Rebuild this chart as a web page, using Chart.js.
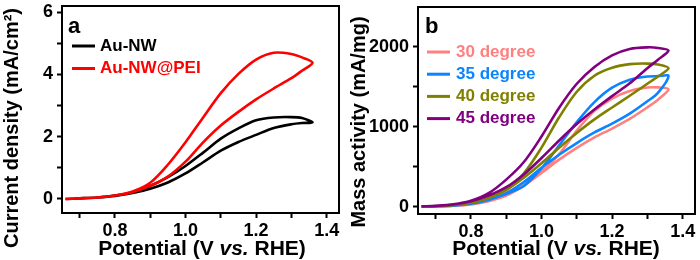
<!DOCTYPE html>
<html>
<head>
<meta charset="utf-8">
<script src="https://cdn.jsdelivr.net/npm/chart.js@4.4.1/dist/chart.umd.min.js"></script>
<style>
  body { margin: 0; background: #fff; }
  .panel { position: absolute; top: 0; width: 350px; height: 260px; }
</style>
</head>
<body>
<div class="panel" style="left:0"><canvas id="chartA" width="350" height="260"></canvas></div>
<div class="panel" style="left:350px"><canvas id="chartB" width="350" height="260"></canvas></div>
<script>
// potentials (V vs. RHE) for the anodic and cathodic sweeps
const potentialForward = [0.66, 0.70, 0.75, 0.80, 0.85, 0.90, 0.95, 1.00, 1.05, 1.10, 1.15, 1.20, 1.25, 1.30, 1.33, 1.36];
const potentialReverse = [1.33, 1.30, 1.25, 1.20, 1.15, 1.10, 1.05, 1.00, 0.95, 0.90, 0.85, 0.80, 0.75, 0.70, 0.66];

// panel a: current density (mA/cm2)
const auNwForward = [0, 0.02, 0.05, 0.11, 0.22, 0.42, 0.70, 1.06, 1.49, 1.94, 2.27, 2.53, 2.62, 2.63, 2.60, 2.46];
const auNwReverse = [2.44, 2.40, 2.28, 2.06, 1.83, 1.55, 1.18, 0.82, 0.53, 0.33, 0.19, 0.10, 0.05, 0.02, 0];
const auNwPeiForward = [0, 0.02, 0.05, 0.11, 0.24, 0.52, 1.10, 1.82, 2.62, 3.40, 4.02, 4.48, 4.70, 4.66, 4.55, 4.38];
const auNwPeiReverse = [4.12, 3.88, 3.55, 3.20, 2.80, 2.36, 1.82, 1.20, 0.72, 0.42, 0.22, 0.11, 0.05, 0.02, 0];

// panel b: mass activity (mA/mg)
const deg30Forward = [3, 6, 15, 35, 80, 170, 290, 440, 660, 955, 1200, 1355, 1450, 1492, 1494, 1470];
const deg30Reverse = [1340, 1245, 1100, 979, 868, 737, 590, 425, 265, 140, 70, 30, 13, 5, 3];
const deg35Forward = [3, 7, 18, 40, 90, 160, 260, 480, 770, 1060, 1310, 1490, 1590, 1630, 1635, 1637];
const deg35Reverse = [1425, 1320, 1165, 1040, 930, 798, 652, 488, 310, 170, 85, 38, 15, 6, 3];
const deg40Forward = [4, 9, 22, 50, 110, 230, 420, 740, 1120, 1440, 1640, 1740, 1785, 1792, 1780, 1734];
const deg40Reverse = [1630, 1540, 1390, 1243, 1094, 924, 740, 545, 365, 210, 110, 50, 20, 8, 4];
const deg45Forward = [5, 12, 30, 75, 170, 340, 560, 880, 1240, 1540, 1750, 1895, 1975, 1995, 1988, 1955];
const deg45Reverse = [1840, 1735, 1545, 1385, 1218, 1036, 830, 610, 405, 245, 140, 70, 30, 12, 5];

// axis ticks (all tick marks) and the ones that carry a label
const potentialTicks = [0.7, 0.8, 0.9, 1.0, 1.1, 1.2, 1.3, 1.4];
const potentialLabels = ['0.8', '1.0', '1.2', '1.4'];
const densityTicks = [0, 1, 2, 3, 4, 5, 6];
const densityLabels = ['0', '2', '4', '6'];
const massTicks = [0, 500, 1000, 1500, 2000];
const massLabels = ['0', '1000', '2000'];

const FONT = '"Liberation Sans", Arial, sans-serif';

function loop(fwd, rev) {
  const up = potentialForward.map((x, i) => ({ x: x, y: fwd[i] }));
  const down = potentialReverse.map((x, i) => ({ x: x, y: rev[i] }));
  return up.concat(down);
}

function series(label, color, fwd, rev, order) {
  return {
    label: label,
    data: loop(fwd, rev),
    borderColor: color,
    backgroundColor: color,
    borderWidth: 2.6,
    pointRadius: 0,
    showLine: true,
    tension: 0.3,
    order: order,
  };
}

// box, panel letter, legend and axis titles
const panelDecor = {
  id: 'panelDecor',
  afterDraw(chart, args, opts) {
    const ctx = chart.ctx;
    const a = chart.chartArea;
    ctx.save();
    ctx.strokeStyle = '#000';
    ctx.lineWidth = 2;
    ctx.strokeRect(a.left, a.top, a.right - a.left, a.bottom - a.top);

    ctx.fillStyle = '#000';
    ctx.textAlign = 'left';
    ctx.textBaseline = 'alphabetic';
    ctx.font = 'bold 22px ' + FONT;
    ctx.fillText(opts.letter, opts.letterX, opts.letterY);

    ctx.font = 'bold 17px ' + FONT;
    ctx.textBaseline = 'middle';
    chart.data.datasets.forEach((ds, i) => {
      const y = opts.legendY + i * opts.legendGap;
      ctx.strokeStyle = ds.borderColor;
      ctx.lineWidth = 3;
      ctx.beginPath();
      ctx.moveTo(opts.legendX, y);
      ctx.lineTo(opts.legendX + 23, y);
      ctx.stroke();
      ctx.fillStyle = ds.borderColor;
      ctx.fillText(ds.label, opts.legendX + opts.legendTextGap, y);
    });

    // x title, "vs." in italics
    const parts = [['Potential (V ', 'bold'], ['vs.', 'italic bold'], [' RHE)', 'bold']];
    let total = 0;
    parts.forEach(p => { ctx.font = p[1] + ' 21px ' + FONT; total += ctx.measureText(p[0]).width; });
    let x = opts.xTitleX - total / 2;
    ctx.fillStyle = '#000';
    ctx.textBaseline = 'alphabetic';
    parts.forEach(p => {
      ctx.font = p[1] + ' 21px ' + FONT;
      ctx.fillText(p[0], x, opts.xTitleY);
      x += ctx.measureText(p[0]).width;
    });

    ctx.translate(opts.yTitleX, opts.yTitleY);
    ctx.rotate(-Math.PI / 2);
    ctx.font = 'bold 20px ' + FONT;
    ctx.textAlign = 'center';
    ctx.textBaseline = 'middle';
    ctx.fillText(opts.yTitle, 0, 0);
    ctx.restore();
  }
};

function fmt(v) {
  return Math.abs(v) < 10 ? String(Math.round(v * 10) / 10).replace(/^(\d)$/, '$1') : String(Math.round(v));
}

function makeOptions(cfg) {
  const tickFont = { family: FONT, size: 18, weight: 'bold' };
  const tickGrid = { drawOnChartArea: false, drawTicks: true, tickLength: 5, tickColor: '#000', tickWidth: 2 };
  return {
    responsive: false,
    animation: false,
    devicePixelRatio: 1,
    layout: { padding: cfg.padding },
    plugins: {
      legend: { display: false },
      tooltip: { enabled: false },
      panelDecor: cfg.decor,
    },
    scales: {
      x: {
        type: 'linear',
        min: 0.65,
        max: 1.435,
        grid: tickGrid,
        border: { display: false },
        afterBuildTicks: s => { s.ticks = potentialTicks.map(v => ({ value: v })); },
        ticks: {
          autoSkip: false,
          maxRotation: 0,
          color: '#000',
          font: tickFont,
          padding: 2,
          callback: v => (potentialLabels.includes(v.toFixed(1)) ? v.toFixed(1) : ''),
        },
        afterFit: s => { s.height = cfg.xHeight; s.paddingLeft = 0; s.paddingRight = 0; },
      },
      y: {
        min: cfg.yMin,
        max: cfg.yMax,
        grid: tickGrid,
        border: { display: false },
        afterBuildTicks: s => { s.ticks = cfg.yTicks.map(v => ({ value: v })); },
        ticks: {
          autoSkip: false,
          color: '#000',
          font: tickFont,
          padding: 4,
          callback: v => (cfg.yLabels.includes(String(v)) ? String(v) : ''),
        },
        afterFit: s => { s.width = cfg.yWidth; s.paddingTop = 0; s.paddingBottom = 0; },
      },
    },
  };
}

new Chart(document.getElementById('chartA'), {
  type: 'scatter',
  data: {
    datasets: [
      series('Au-NW', '#000000', auNwForward, auNwReverse, 1),
      series('Au-NW@PEI', '#ff0000', auNwPeiForward, auNwPeiReverse, 0),
    ],
  },
  options: makeOptions({
    padding: { left: 0, right: 11, top: 6, bottom: 0 },
    yWidth: 62, xHeight: 47,
    yMin: -0.45, yMax: 6.2, yTicks: densityTicks, yLabels: densityLabels,
    decor: {
      letter: 'a', letterX: 68, letterY: 33,
      legendX: 72, legendY: 46, legendGap: 22.5, legendTextGap: 28,
      xTitleX: 202, xTitleY: 255,
      yTitle: 'Current density (mA/cm\u00b2)', yTitleX: 12, yTitleY: 128,
    },
  }),
  plugins: [panelDecor],
});

new Chart(document.getElementById('chartB'), {
  type: 'scatter',
  data: {
    datasets: [
      series('30 degree', '#ff8080', deg30Forward, deg30Reverse, 3),
      series('35 degree', '#0a84ff', deg35Forward, deg35Reverse, 2),
      series('40 degree', '#808000', deg40Forward, deg40Reverse, 1),
      series('45 degree', '#800080', deg45Forward, deg45Reverse, 0),
    ],
  },
  options: makeOptions({
    padding: { left: 0, right: 5, top: 7, bottom: 0 },
    yWidth: 68, xHeight: 46,
    yMin: -90, yMax: 2500, yTicks: massTicks, yLabels: massLabels,
    decor: {
      letter: 'b', letterX: 75, letterY: 33,
      legendX: 77, legendY: 52, legendGap: 22.2, legendTextGap: 29,
      xTitleX: 206, xTitleY: 255,
      yTitle: 'Mass activity (mA/mg)', yTitleX: 9, yTitleY: 122,
    },
  }),
  plugins: [panelDecor],
});
</script>
</body>
</html>
